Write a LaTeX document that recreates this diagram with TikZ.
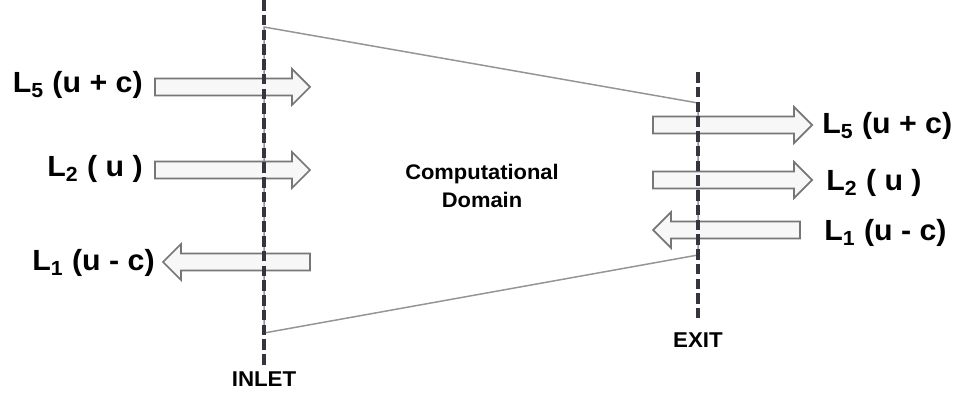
\documentclass[tikz,border=0pt]{standalone}
\usepackage{fontspec}
\setmainfont{Liberation Sans}[FakeStretch=1.04]
\usetikzlibrary{positioning}

\definecolor{dashgray}{HTML}{33363F}
\definecolor{edgegray}{HTML}{959595}
\definecolor{arrgray}{HTML}{767676}

\tikzset{
  bound/.style={dashgray, line width=2.2pt, dash pattern=on 6pt off 2.4pt},
  domainedge/.style={edgegray, line width=0.85pt},
  fatarr/.style={arrgray, line width=1pt, fill=black!3, line join=miter},
  lbl/.style={font=\fontsize{16.6}{19}\selectfont\bfseries, inner sep=0pt},
  tag/.style={font=\fontsize{12.2}{14}\selectfont\bfseries, inner sep=0pt}
}

% wide hollow arrow: tail x, tip x, y
\newcommand{\fatarrow}[3]{%
  \pgfmathsetmacro{\hb}{#2-18*sign(#2-#1)}
  \draw[fatarr] (#1,#3-8.5) -- (\hb,#3-8.5) -- (\hb,#3-18) -- (#2,#3)
    -- (\hb,#3+18) -- (\hb,#3+8.5) -- (#1,#3+8.5) -- cycle;
}

\begin{document}
\begin{tikzpicture}[x=0.02cm, y=-0.02cm]
      \useasboundingbox (0,0) rectangle (956,398);

      % DOMAIN
      \coordinate (tl) at (264,27);
      \coordinate (tr) at (698,103);
      \coordinate (br) at (698,255);
      \coordinate (bl) at (264,333);
      \draw[domainedge] (tl) -- (tr) -- (br) -- (bl) -- cycle;

      % ARROWS
      \fatarrow{155}{310}{87}
      \fatarrow{155}{310}{170}
      \fatarrow{310}{163}{262}

      \fatarrow{653}{812}{125}
      \fatarrow{653}{812}{180}
      \fatarrow{800}{653}{230}

      % BOUNDARIES
      \coordinate (inlettop) at (264,0);
      \coordinate (inletbot) at (264,366);
      \coordinate (exittop) at (698,72);
      \coordinate (exitbot) at (698,318);
      \draw[bound] (inlettop) -- (inletbot);
      \draw[bound] (exittop) -- (exitbot);

      % LABELS
      \node[lbl, anchor=base east] (in5) at (143,93) {L\textsubscript{5} (u + c)};
      \node[lbl, anchor=base east] (in2) at (143,177) {L\textsubscript{2} ( u )};
      \node[lbl, anchor=base east] (in1) at (155,271) {L\textsubscript{1} (u - c)};

      \node[lbl, anchor=base west] (out5) at (822,134) {L\textsubscript{5} (u + c)};
      \node[lbl, anchor=base west] (out2) at (826,191) {L\textsubscript{2} ( u )};
      \node[lbl, anchor=base west] (out1) at (824,241) {L\textsubscript{1} (u - c)};

      % NOTES
      \node[tag, font=\fontsize{12}{15.9}\selectfont\bfseries, align=center]
        (domain) at (482,185.5) {Computational\\Domain};
      \node[tag] (inlet) at (264,379.5) {INLET};
      \node[tag] (exit) at (698,340.5) {EXIT};
\end{tikzpicture}
\end{document}
